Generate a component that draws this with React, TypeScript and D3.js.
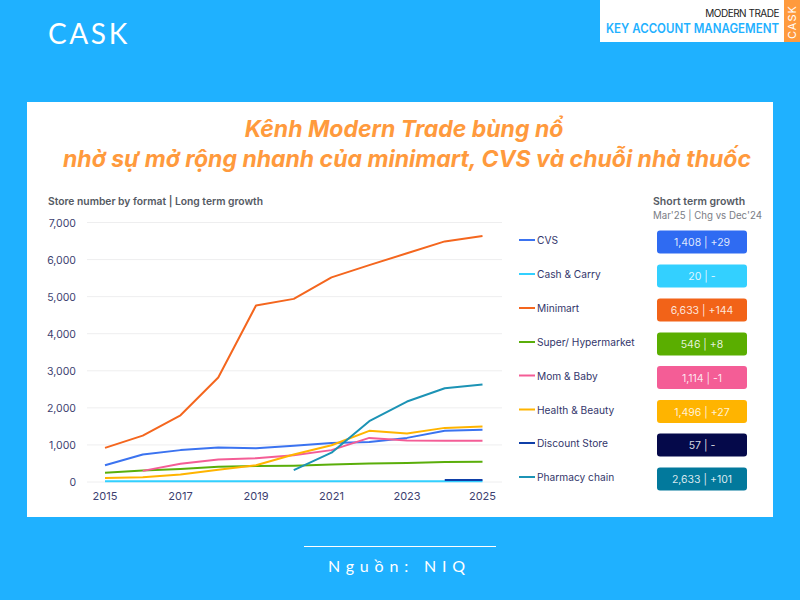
import React from 'react';
import * as d3 from 'd3';

const years = [2015, 2016, 2017, 2018, 2019, 2020, 2021, 2022, 2023, 2024, 2025];
const yTicks = [0, 1000, 2000, 3000, 4000, 5000, 6000, 7000];
const xTicks = [2015, 2017, 2019, 2021, 2023, 2025];

type Val = number | null;
const cvs: Val[] = [450, 740, 860, 930, 910, 980, 1050, 1080, 1190, 1380, 1408];
const cashCarry: Val[] = [20, 20, 20, 20, 20, 20, 20, 20, 20, 20, 20];
const minimart: Val[] = [920, 1250, 1800, 2820, 4760, 4940, 5520, 5850, 6170, 6490, 6633];
const superHyper: Val[] = [250, 310, 350, 410, 430, 440, 470, 500, 515, 540, 546];
const momBaby: Val[] = [null, 300, 490, 610, 640, 720, 860, 1190, 1120, 1115, 1114];
const healthBeauty: Val[] = [110, 130, 200, 330, 450, 740, 990, 1380, 1310, 1460, 1496];
const discountStore: Val[] = [null, null, null, null, null, null, null, null, null, 57, 57];
const pharmacy: Val[] = [null, null, null, null, null, 320, 790, 1640, 2170, 2530, 2633];

const names = ['CVS', 'Cash & Carry', 'Minimart', 'Super/ Hypermarket', 'Mom & Baby', 'Health & Beauty', 'Discount Store', 'Pharmacy chain'];
const lineColors = ['#3b73f0', '#33d0ff', '#f4661e', '#5aae0a', '#f45d96', '#ffb400', '#0f3fa8', '#1c93b5'];
const boxColors = ['#2f6bf2', '#33d0ff', '#f26318', '#5aae00', '#f45d96', '#ffb400', '#05094a', '#02799c'];
const boxLabels = ['1,408 | +29', '20 | -', '6,633 | +144', '546 | +8', '1,114 | -1', '1,496 | +27', '57 | -', '2,633 | +101'];
const series = [cvs, cashCarry, minimart, superHyper, momBaby, healthBeauty, discountStore, pharmacy];
const legendY = [240, 274, 308, 342, 375.5, 409.5, 443, 477];

const x = d3.scaleLinear().domain([2015, 2025]).range([105, 482.5]);
const y = d3.scaleLinear().domain([0, 7000]).range([482, 222.5]);
const line = d3.line<Val>()
    .defined(d => d !== null)
    .x((_, i) => x(years[i]))
    .y(d => y(d as number));

const sans = 'Inter, "Noto Sans", sans-serif';

export default function App() {
    return (
        <svg width={800} height={600} style={{position: 'absolute', left: 0, top: 0}} fontFamily={sans}>
            <rect width={800} height={600} fill="#1fb1ff" />

            {/* header */}
            <text x={48} y={44} fill="#fff" fontFamily="Lato" fontSize={28} letterSpacing={2.6}>CASK</text>
            <rect x={600} y={0} width={184} height={42} fill="#fff" />
            <rect x={784} y={0} width={16} height={42} fill="#ff9a3d" />
            <text x={779} y={17} textAnchor="end" fill="#222" fontSize={10} letterSpacing={-0.5}>MODERN TRADE</text>
            <text x={606} y={33} fill="#1fb1ff" fontSize={12.5} fontWeight={600} textLength={173} lengthAdjust="spacingAndGlyphs">KEY ACCOUNT MANAGEMENT</text>
            <text transform="translate(796,39) rotate(-90)" fill="#fff" fontSize={11} letterSpacing={1}>CASK</text>

            {/* panel */}
            <rect x={27} y={102} width={746} height={415} fill="#fff" />
            <text x={404} y={137} textAnchor="middle" fill="#ff9a3d" fontSize={23} fontWeight={700} fontStyle="italic">Kênh Modern Trade bùng nổ</text>
            <text x={407} y={167} textAnchor="middle" fill="#ff9a3d" fontSize={23} fontWeight={700} fontStyle="italic">nhờ sự mở rộng nhanh của minimart, CVS và chuỗi nhà thuốc</text>

            <text x={48} y={205} fill="#555a63" fontSize={10.3} fontWeight={600}>Store number by format | Long term growth</text>

            {/* grid + axes */}
            {yTicks.map(t => (
                <g key={t}>
                    <line x1={87} x2={502} y1={y(t)} y2={y(t)} stroke="#eeeeef" strokeWidth={1} />
                    <text x={76} y={y(t) + 4} textAnchor="end" fill="#3d3f70" fontSize={10.5}>{d3.format(',')(t)}</text>
                </g>
            ))}
            {xTicks.map(t => (
                <text key={t} x={x(t)} y={500} textAnchor="middle" fill="#3d3f70" fontSize={11}>{t}</text>
            ))}

            {/* lines */}
            {series.map((s, i) => (
                <path key={names[i]} d={line(s) || ''} fill="none" stroke={lineColors[i]} strokeWidth={i === 1 ? 2.2 : 2} strokeLinejoin="round" />
            ))}

            {/* legend + short term boxes */}
            <text x={653} y={205} fill="#555a63" fontSize={10.5} fontWeight={600}>Short term growth</text>
            <text x={653} y={219} fill="#7a7d85" fontSize={9.7}>Mar'25 | Chg vs Dec'24</text>
            {names.map((n, i) => (
                <g key={n}>
                    <line x1={519} x2={535} y1={legendY[i]} y2={legendY[i]} stroke={lineColors[i]} strokeWidth={2} />
                    <text x={537} y={legendY[i] + 4} fill="#33366b" fontSize={10.2}>{n}</text>
                    <rect x={657} y={legendY[i] - 9.5} width={90} height={23} rx={3} fill={boxColors[i]} />
                    <text x={702} y={legendY[i] + 6} textAnchor="middle" fill="#fff" fillOpacity={0.85} fontSize={10.5}>{boxLabels[i]}</text>
                </g>
            ))}

            {/* footer */}
            <line x1={304} x2={496} y1={546.5} y2={546.5} stroke="#fff" strokeWidth={1} />
            <text x={328} y={572} fill="#fff" fontFamily="Lato" fontSize={16} textLength={137}>Nguồn: NIQ</text>
        </svg>
    );
}
